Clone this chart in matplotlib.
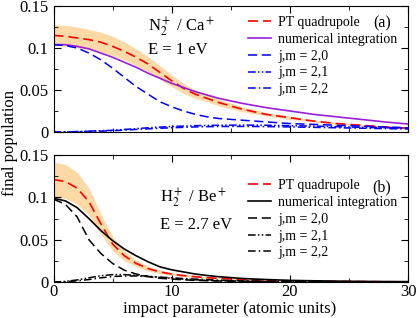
import matplotlib
matplotlib.use('Agg')
import matplotlib.pyplot as plt
from matplotlib.ticker import MultipleLocator

plt.rcParams['font.family'] = ['Liberation Serif', 'DejaVu Serif']
plt.rcParams['mathtext.fontset'] = 'stix'

# impact parameter grid (atomic units)
xs = [0, 1, 2, 3, 4, 5, 6, 7, 8, 9, 10, 11, 12, 13, 14, 16, 18, 20, 22, 24, 26, 28, 30]

# panel (a): N2+ / Ca+, E = 1 eV
pt_a = [0.115, 0.114, 0.112, 0.110, 0.107, 0.102, 0.096, 0.089, 0.081, 0.071, 0.061, 0.052,
        0.045, 0.040, 0.035, 0.027, 0.021, 0.017, 0.013, 0.010, 0.008, 0.006, 0.0045]
band_hi_a = [0.128, 0.127, 0.125, 0.122, 0.119, 0.114, 0.107, 0.099, 0.090, 0.079, 0.068, 0.058,
             0.050, 0.045, 0.039, 0.030, 0.023, 0.019, 0.014, 0.011, 0.009, 0.007, 0.005]
band_lo_a = [0.103, 0.102, 0.100, 0.098, 0.095, 0.091, 0.086, 0.079, 0.072, 0.063, 0.054, 0.046,
             0.040, 0.036, 0.031, 0.024, 0.019, 0.015, 0.012, 0.009, 0.007, 0.005, 0.004]
num_a = [0.104, 0.104, 0.102, 0.099, 0.094, 0.089, 0.083, 0.077, 0.070, 0.064, 0.058, 0.053,
         0.048, 0.044, 0.040, 0.034, 0.029, 0.025, 0.021, 0.018, 0.015, 0.012, 0.0095]
j20_a = [0.104, 0.103, 0.100, 0.094, 0.086, 0.076, 0.065, 0.054, 0.045, 0.036, 0.030, 0.025,
         0.021, 0.018, 0.016, 0.014, 0.012, 0.010, 0.009, 0.008, 0.007, 0.006, 0.005]
j21_a = [0, 0.0002, 0.0005, 0.001, 0.0015, 0.002, 0.003, 0.004, 0.005, 0.0058, 0.0065, 0.007,
         0.0075, 0.0078, 0.008, 0.0082, 0.008, 0.0075, 0.007, 0.0063, 0.0056, 0.005, 0.0045]
j22_a = [0, 0.0001, 0.0003, 0.0007, 0.001, 0.0015, 0.0022, 0.003, 0.0037, 0.0044, 0.005, 0.0055,
         0.006, 0.0063, 0.0065, 0.0066, 0.0064, 0.006, 0.0055, 0.005, 0.0045, 0.004, 0.0035]

# panel (b): H2+ / Be+, E = 2.7 eV
pt_b = [0.121, 0.119, 0.111, 0.095, 0.069, 0.045, 0.031, 0.022, 0.016, 0.012, 0.0095, 0.0077,
        0.0063, 0.0052, 0.0043, 0.003, 0.0021, 0.0015, 0.0011, 0.0008, 0.0006, 0.0004, 0.0003]
band_hi_b = [0.142, 0.139, 0.130, 0.111, 0.081, 0.054, 0.037, 0.026, 0.019, 0.014, 0.011, 0.009,
             0.0074, 0.006, 0.005, 0.0035, 0.0025, 0.0018, 0.0013, 0.0009, 0.0007, 0.0005, 0.0004]
band_lo_b = [0.100, 0.099, 0.092, 0.079, 0.057, 0.037, 0.025, 0.018, 0.013, 0.010, 0.008, 0.0064,
             0.0052, 0.0043, 0.0036, 0.0025, 0.0017, 0.0012, 0.0009, 0.0007, 0.0005, 0.0003, 0.0002]
num_b = [0.099, 0.096, 0.088, 0.075, 0.061, 0.049, 0.039, 0.031, 0.024, 0.018, 0.0145, 0.012,
         0.0095, 0.0078, 0.0063, 0.0042, 0.003, 0.002, 0.0015, 0.0011, 0.0008, 0.0006, 0.0005]
j20_b = [0.098, 0.092, 0.077, 0.050, 0.034, 0.022, 0.014, 0.0095, 0.0065, 0.0045, 0.0035, 0.0027,
         0.002, 0.0016, 0.0013, 0.0009, 0.0006, 0.0004, 0.0003, 0.0002, 0.0002, 0.0001, 0.0001]
j21_b = [0, 0.0008, 0.0025, 0.005, 0.0075, 0.0088, 0.0088, 0.008, 0.0068, 0.0055, 0.0045, 0.0035,
         0.0027, 0.002, 0.0015, 0.0009, 0.0005, 0.0003, 0.0002, 0.0001, 0.0001, 0, 0]
j22_b = [0, 0.0004, 0.0015, 0.003, 0.005, 0.0065, 0.0072, 0.0072, 0.0066, 0.0058, 0.005, 0.0042,
         0.0035, 0.0028, 0.0022, 0.0014, 0.0009, 0.0006, 0.0004, 0.0003, 0.0002, 0.0001, 0.0001]

labels = ['PT quadrupole', 'numerical integration', 'j,m = 2,0', 'j,m = 2,1', 'j,m = 2,2']

fig = plt.figure(figsize=(4.18, 3.18), dpi=100)
ax1 = fig.add_axes([0.128, 0.585, 0.848, 0.396])
ax2 = fig.add_axes([0.128, 0.113, 0.848, 0.399])

dash21 = (0, (5, 1.5, 1, 1.5, 1, 1.5))
dash22 = (0, (5, 2, 1, 2))


def draw(ax, pt, hi, lo, num, j20, j21, j22, numcol, jcol, fs, legtop):
    ax.fill_between(xs, lo, hi, color='#fdd9a6', lw=0)
    ax.plot(xs, pt, color='red', ls=(0, (6, 3)), lw=1.2, label=labels[0])
    ax.plot(xs, num, color=numcol, lw=1.2, label=labels[1])
    ax.plot(xs, j20, color=jcol, ls=(0, (6, 3)), lw=1.1, label=labels[2])
    ax.plot(xs, j21, color=jcol, ls=dash21, lw=1.1, label=labels[3])
    ax.plot(xs, j22, color=jcol, ls=dash22, lw=1.1, label=labels[4])
    ax.set_xlim(0, 30)
    ax.set_ylim(0, 0.15)
    ax.set_xticks([0, 10, 20, 30])
    ax.xaxis.set_minor_locator(MultipleLocator(5))
    ax.set_yticks([0, 0.05, 0.1, 0.15])
    ax.set_yticklabels(['0', '0.05', '0.1', '0.15'])
    ax.yaxis.set_minor_locator(MultipleLocator(0.025))
    ax.tick_params(which='both', direction='in', top=True, right=True, labelsize=12)
    ax.tick_params(axis='x', pad=1.5)
    ax.tick_params(which='major', length=5)
    ax.tick_params(which='minor', length=3)
    ax.legend(loc='upper left', bbox_to_anchor=(0.55, legtop), frameon=False, fontsize=fs,
              handlelength=1.6, handletextpad=0.55, labelspacing=0.27, borderpad=0,
              borderaxespad=0)


draw(ax1, pt_a, band_hi_a, band_lo_a, num_a, j20_a, j21_a, j22_a, '#9a1fd8', 'blue', 10, 0.92)
draw(ax2, pt_b, band_hi_b, band_lo_b, num_b, j20_b, j21_b, j22_b, 'black', 'black', 10, 0.81)

ax1.set_xticklabels([])
ax2.set_xticklabels(['0', '10', '20', '30'])

ax1.text(0.266, 0.83, r'N$_2^+$ / Ca$^+$', transform=ax1.transAxes, fontsize=12, va='center')
ax1.text(0.266, 0.65, 'E = 1 eV', transform=ax1.transAxes, fontsize=12, va='center')
ax1.text(0.927, 0.86, '(a)', transform=ax1.transAxes, fontsize=11.5, va='center', ha='center')

ax2.text(0.30, 0.66, r'H$_2^+$ / Be$^+$', transform=ax2.transAxes, fontsize=12, va='center')
ax2.text(0.30, 0.45, 'E = 2.7 eV', transform=ax2.transAxes, fontsize=12, va='center')
ax2.text(0.927, 0.745, '(b)', transform=ax2.transAxes, fontsize=11.5, va='center', ha='center')

fig.text(0.55, 0.028, 'impact parameter (atomic units)', fontsize=12, ha='center', va='center')
fig.text(0.025, 0.55, 'final population', rotation=90, fontsize=12, ha='center', va='center')

fig.savefig('out.png', dpi=100)
